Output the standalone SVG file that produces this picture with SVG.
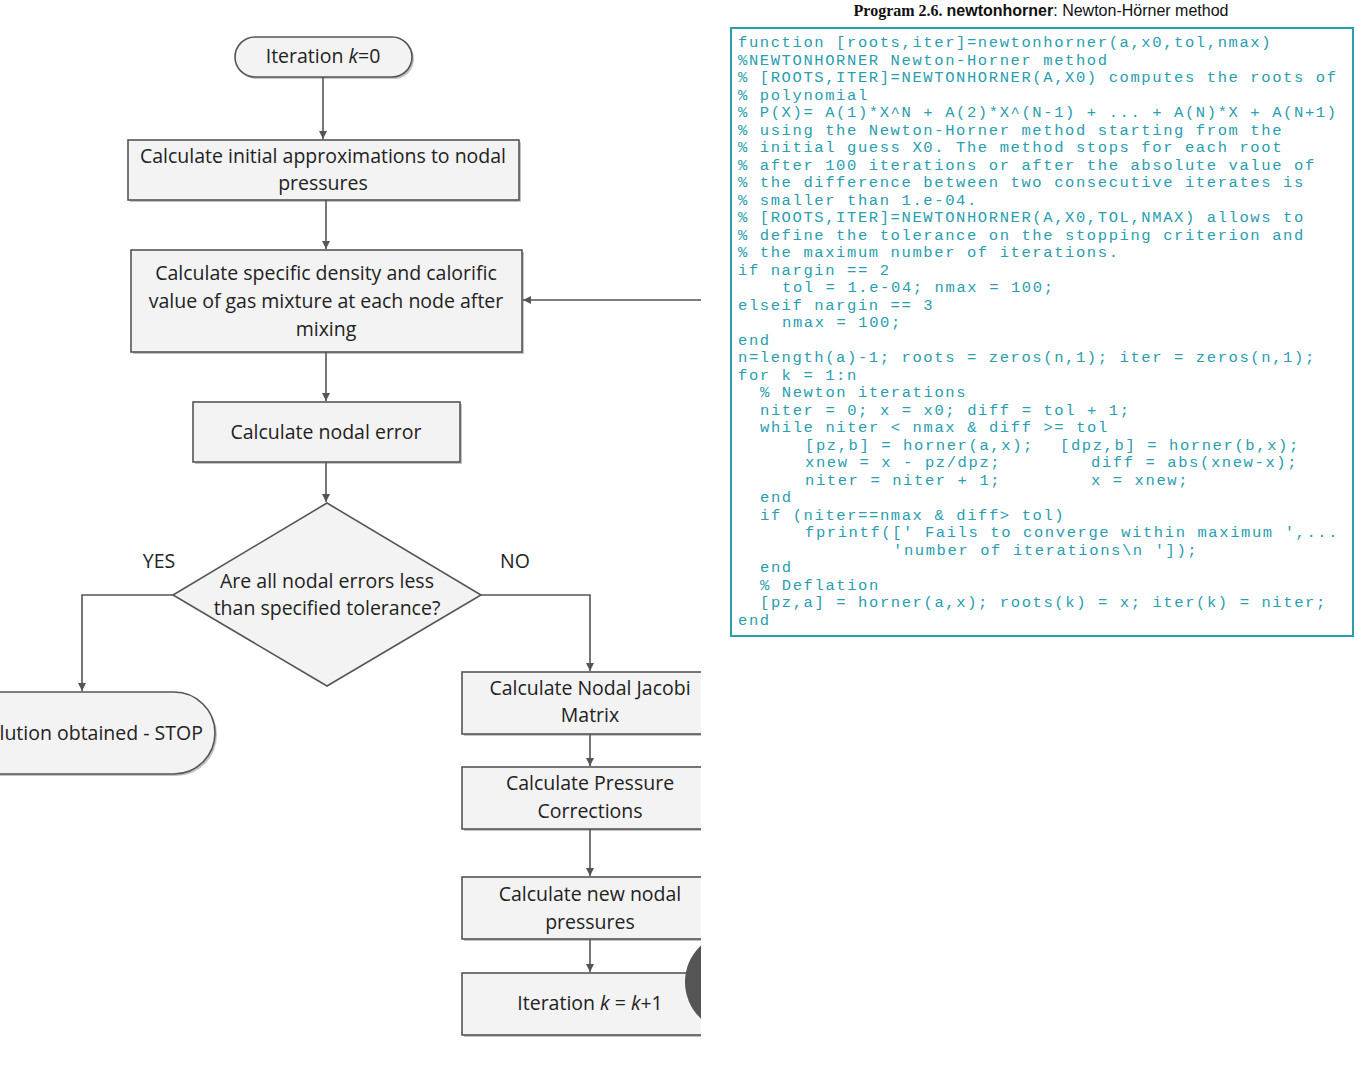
<svg xmlns="http://www.w3.org/2000/svg" width="1357" height="1080" viewBox="0 0 1357 1080">
<style>
.b{fill:#f3f3f3;stroke:#555;stroke-width:1.6}
.s{fill:#888;opacity:0.5}
.t{font-family:"Open Sans","DejaVu Sans",sans-serif;font-size:19.5px;fill:#222;text-anchor:middle}
.c{stroke:#555;stroke-width:1.6;fill:none}
.code text{font-family:"Liberation Mono",monospace;font-size:15.5px;fill:#2a9db0;letter-spacing:1.6px}
</style>
<defs>
<marker id="a" markerWidth="10" markerHeight="10" refX="9" refY="5" orient="auto" markerUnits="userSpaceOnUse"><path d="M1,1 L9,5 L1,9 z" fill="#555"/></marker>
<clipPath id="cl"><rect x="0" y="0" width="701" height="1080"/></clipPath>
</defs>
<rect width="1357" height="1080" fill="#fff"/>
<g clip-path="url(#cl)">
<g id="start"><rect x="237" y="39" width="177" height="40" rx="20" class="s"/><rect x="235" y="37" width="177" height="40" rx="20" class="b"/><text x="323" y="63" class="t">Iteration <tspan font-style="italic">k</tspan>=0</text></g>
<g id="init"><rect x="130" y="142" width="391" height="60" class="s"/><rect x="128" y="140" width="391" height="60" class="b"/><text x="323" y="163" class="t">Calculate initial approximations to nodal</text><text x="323" y="190" class="t">pressures</text></g>
<g id="density"><rect x="133" y="252" width="391" height="102" class="s"/><rect x="131" y="250" width="391" height="102" class="b"/><text x="326" y="280" class="t">Calculate specific density and calorific</text><text x="326" y="308" class="t">value of gas mixture at each node after</text><text x="326" y="336" class="t">mixing</text></g>
<g id="error"><rect x="195" y="404" width="267" height="60" class="s"/><rect x="193" y="402" width="267" height="60" class="b"/><text x="326" y="439" class="t">Calculate nodal error</text></g>
<g id="decision"><polygon points="327,503 481,595 327,686 173,595" class="b"/><text x="327" y="588" class="t">Are all nodal errors less</text><text x="327" y="615" class="t">than specified tolerance?</text></g>
<text x="159" y="568" class="t" font-size="17">YES</text>
<text x="515" y="568" class="t" font-size="17">NO</text>
<g id="stop"><rect x="-60" y="694" width="277" height="82" rx="41" class="s"/><rect x="-62" y="692" width="277" height="82" rx="41" class="b"/><text x="90" y="740" class="t">Solution obtained - STOP</text></g>
<g id="jacobi"><rect x="464" y="674" width="260" height="62" class="s"/><rect x="462" y="672" width="260" height="62" class="b"/><text x="590" y="695" class="t">Calculate Nodal Jacobi</text><text x="590" y="722" class="t">Matrix</text></g>
<g id="corr"><rect x="464" y="769" width="260" height="62" class="s"/><rect x="462" y="767" width="260" height="62" class="b"/><text x="590" y="790" class="t">Calculate Pressure</text><text x="590" y="818" class="t">Corrections</text></g>
<g id="newp"><rect x="464" y="879" width="260" height="62" class="s"/><rect x="462" y="877" width="260" height="62" class="b"/><text x="590" y="901" class="t">Calculate new nodal</text><text x="590" y="929" class="t">pressures</text></g>
<g id="iter"><rect x="464" y="975" width="260" height="62" class="s"/><rect x="462" y="973" width="260" height="62" class="b"/><text x="590" y="1010" class="t">Iteration <tspan font-style="italic">k</tspan> = <tspan font-style="italic">k</tspan>+1</text></g>
<circle cx="735" cy="982" r="50" fill="#555"/>
<g id="connectors">
<path d="M323,77 V139" class="c" marker-end="url(#a)"/>
<path d="M326,200 V249" class="c" marker-end="url(#a)"/>
<path d="M326,352 V401" class="c" marker-end="url(#a)"/>
<path d="M326,462 V502" class="c" marker-end="url(#a)"/>
<path d="M173,595 H82 V691" class="c" marker-end="url(#a)"/>
<path d="M481,595 H590 V671" class="c" marker-end="url(#a)"/>
<path d="M590,734 V766" class="c" marker-end="url(#a)"/>
<path d="M590,829 V876" class="c" marker-end="url(#a)"/>
<path d="M590,939 V972" class="c" marker-end="url(#a)"/>
<path d="M701,300 H523" class="c" marker-end="url(#a)"/>
</g>
</g>
<text x="1041" y="16" font-family="Liberation Serif,serif" font-size="16" text-anchor="middle" fill="#111"><tspan font-weight="bold">Program 2.6. </tspan><tspan font-family="Liberation Sans,sans-serif" font-weight="bold">newtonhorner</tspan><tspan font-family="Liberation Sans,sans-serif">: Newton-Hörner method</tspan></text>
<rect x="731" y="28" width="622" height="608" fill="none" stroke="#2a9db0" stroke-width="2"/>
<g class="code">
<text x="738" y="47">function [roots,iter]=newtonhorner(a,x0,tol,nmax)</text>
<text x="738" y="65">%NEWTONHORNER Newton-Horner method</text>
<text x="738" y="82">% [ROOTS,ITER]=NEWTONHORNER(A,X0) computes the roots of</text>
<text x="738" y="100">% polynomial</text>
<text x="738" y="117">% P(X)= A(1)*X^N + A(2)*X^(N-1) + ... + A(N)*X + A(N+1)</text>
<text x="738" y="135">% using the Newton-Horner method starting from the</text>
<text x="738" y="152">% initial guess X0. The method stops for each root</text>
<text x="738" y="170">% after 100 iterations or after the absolute value of</text>
<text x="738" y="187">% the difference between two consecutive iterates is</text>
<text x="738" y="205">% smaller than 1.e-04.</text>
<text x="738" y="222">% [ROOTS,ITER]=NEWTONHORNER(A,X0,TOL,NMAX) allows to</text>
<text x="738" y="240">% define the tolerance on the stopping criterion and</text>
<text x="738" y="257">% the maximum number of iterations.</text>
<text x="738" y="275">if nargin == 2</text>
<text x="782" y="292">tol = 1.e-04; nmax = 100;</text>
<text x="738" y="310">elseif nargin == 3</text>
<text x="782" y="327">nmax = 100;</text>
<text x="738" y="345">end</text>
<text x="738" y="362">n=length(a)-1; roots = zeros(n,1); iter = zeros(n,1);</text>
<text x="738" y="380">for k = 1:n</text>
<text x="760" y="397">% Newton iterations</text>
<text x="760" y="415">niter = 0; x = x0; diff = tol + 1;</text>
<text x="760" y="432">while niter &lt; nmax &amp; diff &gt;= tol</text>
<text x="805" y="450">[pz,b] = horner(a,x);</text><text x="1060" y="450">[dpz,b] = horner(b,x);</text>
<text x="805" y="467">xnew = x - pz/dpz;</text><text x="1091" y="467">diff = abs(xnew-x);</text>
<text x="805" y="485">niter = niter + 1;</text><text x="1091" y="485">x = xnew;</text>
<text x="760" y="502">end</text>
<text x="760" y="520">if (niter==nmax &amp; diff&gt; tol)</text>
<text x="805" y="537">fprintf([' Fails to converge within maximum ',...</text>
<text x="893" y="555">'number of iterations\n ']);</text>
<text x="760" y="572">end</text>
<text x="760" y="590">% Deflation</text>
<text x="760" y="607">[pz,a] = horner(a,x); roots(k) = x; iter(k) = niter;</text>
<text x="738" y="625">end</text>
</g>
</svg>
